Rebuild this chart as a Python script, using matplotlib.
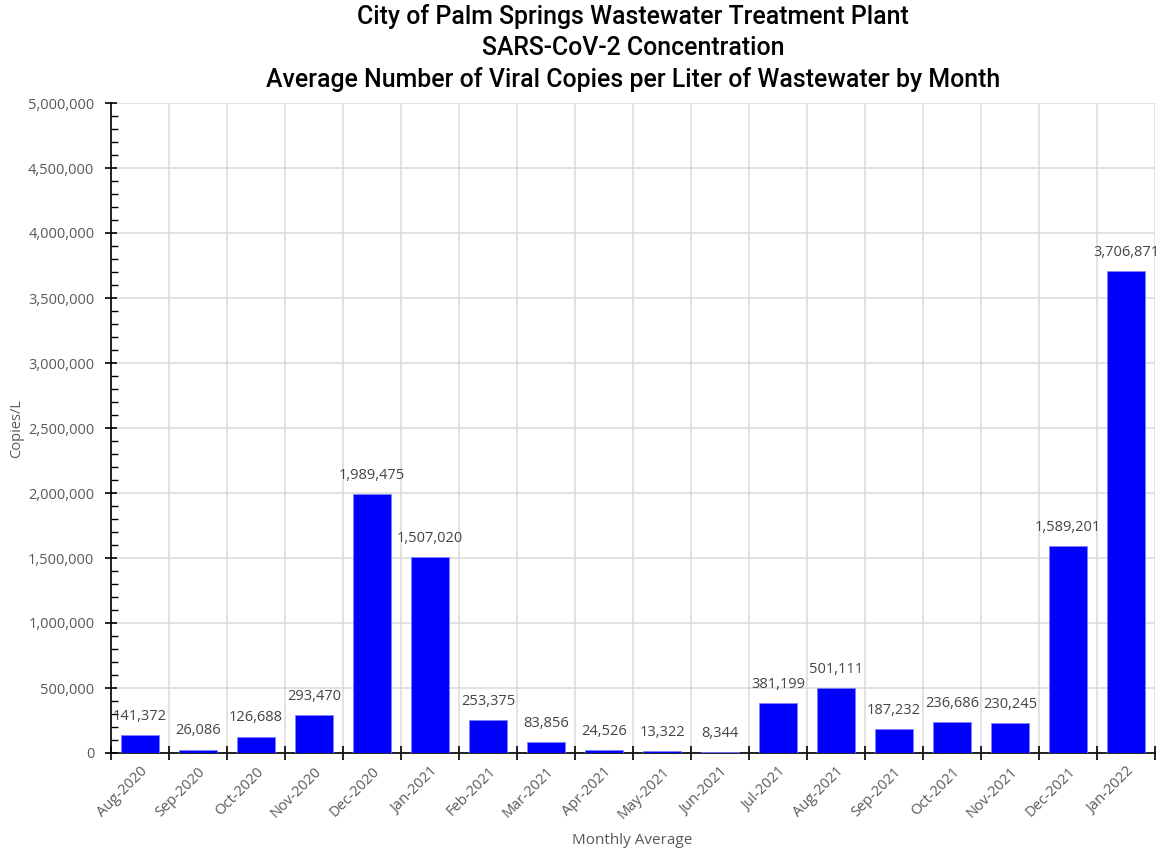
import numpy as np
import matplotlib.pyplot as plt
from matplotlib.ticker import FuncFormatter, MultipleLocator, FixedLocator

months = ['Aug-2020', 'Sep-2020', 'Oct-2020', 'Nov-2020', 'Dec-2020', 'Jan-2021',
          'Feb-2021', 'Mar-2021', 'Apr-2021', 'May-2021', 'Jun-2021', 'Jul-2021',
          'Aug-2021', 'Sep-2021', 'Oct-2021', 'Nov-2021', 'Dec-2021', 'Jan-2022']
copies = [141372, 26086, 126688, 293470, 1989475, 1507020,
          253375, 83856, 24526, 13322, 8344, 381199,
          501111, 187232, 236686, 230245, 1589201, 3706871]

plt.rcParams['font.family'] = ['Open Sans', 'DejaVu Sans']

fig = plt.figure(figsize=(11.63, 8.52), dpi=100)
ax = fig.add_axes([111/1163, 1 - 753/852, (1155-111)/1163, (753-103)/852])

x = np.arange(len(months))
ax.bar(x, copies, width=0.67, color='#0000ff', edgecolor='#8080ff', linewidth=0.6, zorder=3)

for xi, v in zip(x, copies):
    ax.annotate(f'{v:,}', (xi, v), xytext=(0, 8), textcoords='offset points',
                ha='center', va='bottom', fontsize=10.5, color='#444444')

ax.set_xlim(-0.5, len(months) - 0.5)
ax.set_ylim(0, 5000000)

ax.yaxis.set_major_locator(MultipleLocator(500000))
ax.yaxis.set_minor_locator(MultipleLocator(100000))
ax.yaxis.set_major_formatter(FuncFormatter(lambda v, p: f'{int(v):,}'))
ax.tick_params(axis='y', which='major', direction='inout', length=8, width=1.2,
               labelsize=10.5, labelcolor='#595959', pad=8)
ax.tick_params(axis='y', which='minor', direction='in', length=5, width=1.0)

ax.set_xticks(x)
ax.set_xticklabels(months, rotation=45, ha='right', rotation_mode='anchor',
                   fontsize=10.5, color='#595959')
ax.xaxis.set_minor_locator(FixedLocator(np.arange(-0.5, len(months), 1)))
ax.tick_params(axis='x', which='major', length=0, pad=8)
ax.tick_params(axis='x', which='minor', direction='inout', length=10, width=1.2)

ax.grid(True, axis='y', which='major', color='#dddddd', linewidth=1.2, zorder=0)
ax.grid(True, axis='x', which='minor', color='#dddddd', linewidth=1.2, zorder=0)

for s in ['top', 'right']:
    ax.spines[s].set_visible(False)
ax.spines['left'].set_linewidth(1.2)
ax.spines['bottom'].set_linewidth(1.2)

fig.text(17/1163, 1 - 428/852, 'Copies/L', rotation=90, ha='center', va='center',
         fontsize=10.5, color='#595959')
fig.text(632/1163, 1 - 841/852, 'Monthly Average', ha='center', va='center',
         fontsize=11, color='#595959')

fig.text(633/1163, 1 - 48/852,
         'City of Palm Springs Wastewater Treatment Plant\nSARS-CoV-2 Concentration\n'
         'Average Number of Viral Copies per Liter of Wastewater by Month',
         ha='center', va='center', fontsize=17.9, family='Roboto', fontweight='medium',
         color='black', linespacing=1.36)

fig.savefig('out.png', dpi=100, facecolor='white')
